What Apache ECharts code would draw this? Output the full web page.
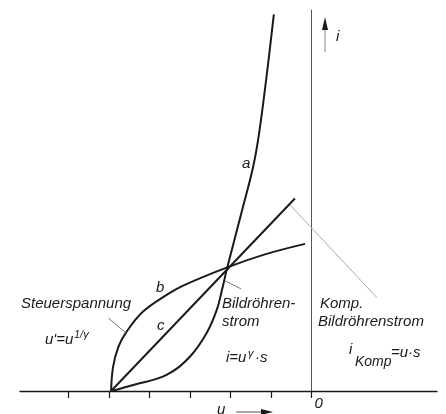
<!DOCTYPE html>
<html lang="de">
<head>
<meta charset="utf-8">
<title>Gamma-Kompensation</title>
<script src="https://cdn.jsdelivr.net/npm/echarts@6.0.0/dist/echarts.min.js"></script>
<style>
  html, body { margin: 0; padding: 0; background: #fff; }
  #main { width: 446px; height: 414px; }
</style>
</head>
<body>
<div id="main"></div>
<script type="text/javascript">
var curveA = [[-4.95, 0], [-4.40, 0.15], [-3.58, 0.40], [-3.00, 0.85], [-2.59, 1.43], [-2.34, 2.0],
  [-2.21, 2.50], [-2.08, 3.05], [-1.69, 4.55], [-1.44, 5.54], [-1.30, 6.32], [-1.11, 7.76], [-0.93, 9.29]];
var curveB = [[-4.95, 0], [-4.90, 0.60], [-4.77, 1.09], [-4.57, 1.46], [-4.16, 1.96], [-3.58, 2.37],
  [-3.17, 2.60], [-2.08, 3.05], [-1.15, 3.37], [-0.16, 3.63]];
var lineC = [[-4.95, 0], [-0.41, 4.75]];
var kompLine = [[-0.53, 4.59], [1.62, 2.30]];
var leaderSteuer = [[-5.02, 1.80], [-4.58, 1.43]];
var leaderBild = [[-2.14, 2.72], [-1.74, 2.52]];
var tickValues = [-6, -5, -4, -3, -2, -1, 0];
var labelValues = [0];

var myChart = echarts.init(document.getElementById('main'));
var font = '"Liberation Sans", Arial, sans-serif';
var ink = '#1a1a1a';

function txt(x, y, s, size) {
  return {
    type: 'text', x: x, y: y,
    style: { text: s, font: 'italic ' + (size || 15) + 'px ' + font, fill: ink, textVerticalAlign: 'middle' }
  };
}

function curve(data, w, color, smooth) {
  return {
    type: 'line', data: data, symbol: 'none', smooth: smooth || false,
    lineStyle: { color: color || ink, width: w || 2 }, silent: true
  };
}

var option = {
  animation: false,
  grid: { left: 20, right: 9, top: 10, bottom: 23 },
  xAxis: {
    type: 'value', min: -7.2, max: 3.1,
    axisLine: { onZero: false, lineStyle: { color: ink, width: 1.3 } },
    axisTick: { customValues: tickValues, length: 7, lineStyle: { color: ink, width: 1.2 } },
    axisLabel: {
      customValues: labelValues, align: 'left', margin: 5, padding: [0, 0, 0, 3],
      fontStyle: 'italic', fontSize: 15, fontFamily: font, color: ink
    },
    splitLine: { show: false }
  },
  yAxis: {
    type: 'value', min: 0, max: 9.4,
    axisLine: { show: true, onZero: true, lineStyle: { color: '#555', width: 1 } },
    axisTick: { show: false },
    axisLabel: { show: false },
    splitLine: { show: false }
  },
  series: [
    curve(curveA, 2, ink, 0.4),
    curve(curveB, 2, ink, 0.4),
    curve(lineC),
    curve(kompLine, 1, '#aaa'),
    curve(leaderSteuer, 1, '#777'),
    curve(leaderBild, 1, '#777')
  ],
  graphic: [
    txt(242, 164, 'a'), txt(156, 288, 'b'), txt(157, 326, 'c'),
    txt(21, 304, 'Steuerspannung'),
    txt(45, 340, "u'=u"), txt(74, 335, '1/γ', 11),
    txt(222, 304, 'Bildröhren-'), txt(222, 322, 'strom'),
    txt(226, 358, 'i=u'), txt(248, 354, 'γ', 11), txt(255, 358, '·s'),
    txt(320, 304, 'Komp.'), txt(318, 322, 'Bildröhrenstrom'),
    txt(349, 350, 'i'), txt(355, 362, 'Komp', 14), txt(391, 353, '=u·s'),
    txt(336, 37, 'i'),
    txt(217, 410, 'u'),
    { type: 'line', shape: { x1: 236, y1: 412, x2: 263, y2: 412 }, style: { stroke: '#555', lineWidth: 1 } },
    { type: 'polygon', shape: { points: [[261, 409], [273, 412], [261, 415]] }, style: { fill: ink } },
    { type: 'line', shape: { x1: 325, y1: 52, x2: 325, y2: 27 }, style: { stroke: '#888', lineWidth: 1 } },
    { type: 'polygon', shape: { points: [[322, 30], [325, 17], [328, 30]] }, style: { fill: ink } }
  ]
};
myChart.setOption(option);
</script>
</body>
</html>
